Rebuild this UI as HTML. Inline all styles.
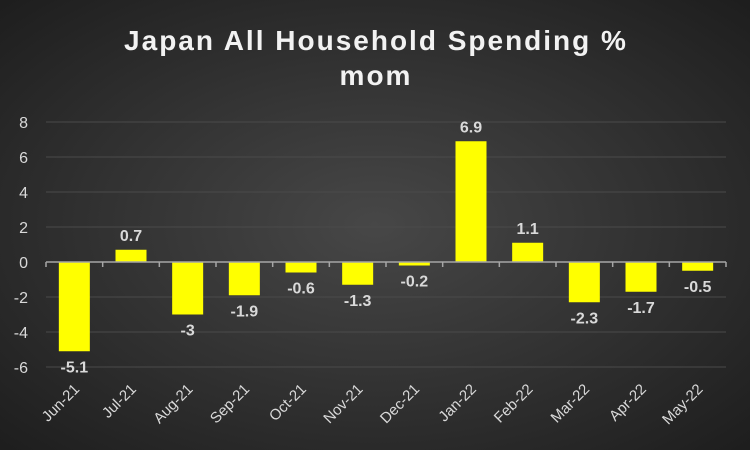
<!DOCTYPE html>
<html><head><meta charset="utf-8"><style>
body{margin:0;width:750px;height:450px;overflow:hidden;background:#262626}
svg{display:block;font-family:"Liberation Sans",sans-serif}
</style></head><body>
<svg id="chart" width="750" height="450">
<defs><radialGradient id="bg" cx="50%" cy="50%" r="70%"><stop offset="0" stop-color="#474747"/><stop offset="1" stop-color="#1e1e1e"/></radialGradient></defs>
<rect width="750" height="450" fill="url(#bg)"/>
<text x="376" y="50" text-anchor="middle" fill="#f2f2f2" font-size="28" font-weight="bold" letter-spacing="2">Japan All Household Spending %</text>
<text x="376" y="85" text-anchor="middle" fill="#f2f2f2" font-size="28" font-weight="bold" letter-spacing="2">mom</text>
<g id="grid"></g><g id="bars"></g><g id="axis"></g>
</svg>
<script>
const categories=["Jun-21","Jul-21","Aug-21","Sep-21","Oct-21","Nov-21","Dec-21","Jan-22","Feb-22","Mar-22","Apr-22","May-22"];
const values=[-5.1,0.7,-3,-1.9,-0.6,-1.3,-0.2,6.9,1.1,-2.3,-1.7,-0.5];
const valueLabels=["-5.1","0.7","-3","-1.9","-0.6","-1.3","-0.2","6.9","1.1","-2.3","-1.7","-0.5"];
const yTicks=[8,6,4,2,0,-2,-4,-6];
const NS="http://www.w3.org/2000/svg";
const x0=46,x1=726,yMax=8,yMin=-6,yTop=122,yBot=367;
const y=v=>yTop+(yMax-v)*(yBot-yTop)/(yMax-yMin);
const cw=(x1-x0)/categories.length;
const xc=i=>x0+cw*(i+0.5);
function mk(t,a,p){const e=document.createElementNS(NS,t);for(const k in a)e.setAttribute(k,a[k]);p.appendChild(e);return e;}
const grid=document.getElementById('grid'),bars=document.getElementById('bars'),axis=document.getElementById('axis');
yTicks.forEach(t=>{
  if(t!==0){const l=mk('line',{x1:x0,x2:x1,y1:y(t),y2:y(t),stroke:'#4a4a4a','stroke-width':1},grid);
  
  }
  const tx=mk('text',{x:28,y:y(t)+6,'text-anchor':'end',fill:'#d9d9d9','font-size':16},grid);
  tx.textContent=t;
  
  
});
values.forEach((v,i)=>{
  const bw=31,top=Math.min(y(v),y(0)),h=Math.abs(y(v)-y(0));
  const r=mk('rect',{x:xc(i)-bw/2,y:top,width:bw,height:h,fill:'#ffff00'},bars);
  
  
  const ly=v>=0?y(v)-9:y(v)+21;
  const t=mk('text',{x:xc(i),y:ly,'text-anchor':'middle',fill:'#d9d9d9','font-size':16,'font-weight':'bold'},bars);
  t.textContent=valueLabels[i];
  
  
  const xl=mk('text',{'text-anchor':'end',fill:'#d9d9d9','font-size':15,transform:`translate(${xc(i)+6},${y(0)+128}) rotate(-45)`},axis);
  xl.textContent=categories[i];
  
  
});
const al=mk('line',{x1:x0,x2:x1,y1:y(0),y2:y(0),stroke:'#a6a6a6','stroke-width':1.5},axis);


for(let i=0;i<=categories.length;i++){
  const tk=mk('line',{x1:x0+cw*i,x2:x0+cw*i,y1:y(0),y2:y(0)+5,stroke:'#a6a6a6','stroke-width':1.5},axis);
  
  
}
</script>
</body></html>
